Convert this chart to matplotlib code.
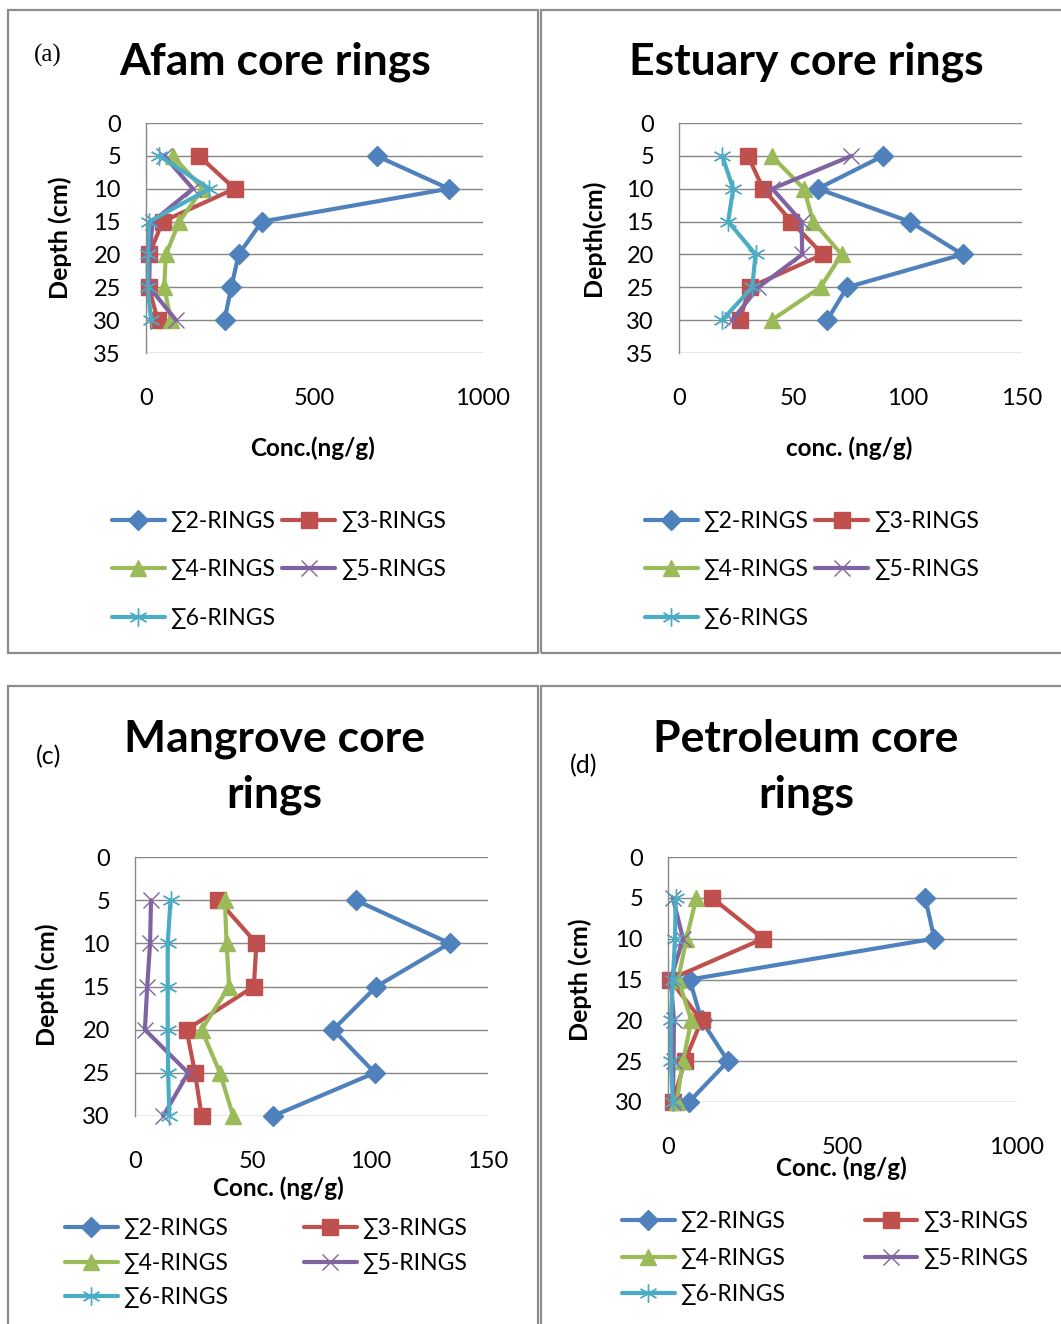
import matplotlib
matplotlib.use("Agg")
import matplotlib.pyplot as plt
from matplotlib.patches import Rectangle

plt.rcParams['font.family'] = ['Lato', 'DejaVu Sans']

W, H = 1061, 1324

# profondeurs (cm)
depth = [5, 10, 15, 20, 25, 30]
series_names = ["∑2-RINGS", "∑3-RINGS", "∑4-RINGS", "∑5-RINGS", "∑6-RINGS"]

# (a) Afam
afam_2 = [684, 899, 344, 275, 253, 233]
afam_3 = [157, 263, 49, 10, 8, 35]
afam_4 = [79, 168, 99, 59, 54, 74]
afam_5 = [54, 139, 20, 10, 10, 89]
afam_6 = [40, 188, 10, 5, 5, 15]

# (b) Estuary
estuary_2 = [89.3, 60.7, 100.9, 124.0, 73.5, 64.8]
estuary_3 = [30.1, 36.8, 49.1, 62.9, 31.0, 26.5]
estuary_4 = [40.5, 54.6, 58.7, 71.1, 61.9, 40.5]
estuary_5 = [75.4, 40.8, 53.6, 53.9, 34.7, 23.3]
estuary_6 = [18.9, 23.7, 21.5, 33.5, 32.0, 18.9]

# (c) Mangrove
mangrove_2 = [93.8, 133.7, 102.6, 84.2, 101.9, 58.7]
mangrove_3 = [35.4, 51.6, 50.5, 21.9, 25.5, 28.3]
mangrove_4 = [38.2, 38.9, 40.0, 28.3, 36.1, 41.7]
mangrove_5 = [6.8, 6.4, 5.2, 4.2, 22.6, 12.0]
mangrove_6 = [15.1, 13.9, 13.9, 13.9, 14.1, 14.6]

# (d) Petroleum
petroleum_2 = [737, 763, 62, 96, 172, 60]
petroleum_3 = [126, 273, 5, 96, 48, 14]
petroleum_4 = [81, 53, 29, 67, 43, 25]
petroleum_5 = [14, 43, 8, 17, 16, 14]
petroleum_6 = [22, 20, 14, 8, 8, 14]

couleurs = ['#4F81BD', '#C0504D', '#9BBB59', '#8064A2', '#4BACC6']
marqueurs = [('D', 10, 1), ('s', 11, 1), ('^', 12, 1), ('x', 12, 1.0), ((6, 2, 0), 13, 1.0)]
GRIS = '#878787'


def px_rect(x0, y0, x1, y1):
    return [x0 / W, 1 - y1 / H, (x1 - x0) / W, (y1 - y0) / H]


def fx(x):
    return x / W


def fy(y):
    return 1 - y / H


fig = plt.figure(figsize=(W / 100, H / 100), dpi=100)

# cadres des quatre panneaux
for (x0, y0, x1, y1) in [(8, 10, 538, 653), (541, 10, 1070, 653),
                         (8, 686, 538, 1340), (541, 686, 1070, 1340)]:
    fig.patches.append(Rectangle((fx(x0), fy(y1)), (x1 - x0) / W, (y1 - y0) / H,
                                 transform=fig.transFigure, fill=False,
                                 edgecolor='#8c8c8c', linewidth=1.6))

panneaux = [
    dict(data=[afam_2, afam_3, afam_4, afam_5, afam_6], rect=(146, 123, 483, 353),
         xlim=1000, xticks=[0, 500, 1000], ymax=35,
         titre="Afam core rings", tpos=(275, 62), ylab="Depth (cm)", ylpos=(60, 238),
         xlab="Conc.(ng/g)", xlpos=(313, 448), leg=(112, 511), leg_sp=1.2, col_sp=0.3),
    dict(data=[estuary_2, estuary_3, estuary_4, estuary_5, estuary_6], rect=(679, 123, 1022, 353),
         xlim=150, xticks=[0, 50, 100, 150], ymax=35,
         titre="Estuary core rings", tpos=(806, 62), ylab="Depth(cm)", ylpos=(593, 238),
         xlab="conc. (ng/g)", xlpos=(849, 448), leg=(645, 511), leg_sp=1.2, col_sp=0.3),
    dict(data=[mangrove_2, mangrove_3, mangrove_4, mangrove_5, mangrove_6], rect=(135, 857, 488, 1116),
         xlim=150, xticks=[0, 50, 100, 150], ymax=30,
         titre="Mangrove core\nrings", tpos=(274, 767), ylab="Depth (cm)", ylpos=(47, 985),
         xlab="Conc. (ng/g)", xlpos=(278, 1188), leg=(65, 1218), leg_sp=0.6, col_sp=3.3),
    dict(data=[petroleum_2, petroleum_3, petroleum_4, petroleum_5, petroleum_6], rect=(668, 857, 1017, 1102),
         xlim=1000, xticks=[0, 500, 1000], ymax=30,
         titre="Petroleum core\nrings", tpos=(806, 767), ylab="Depth (cm)", ylpos=(580, 980),
         xlab="Conc. (ng/g)", xlpos=(841, 1168), leg=(622, 1211), leg_sp=0.68, col_sp=3.45),
]

for p in panneaux:
    ax = fig.add_axes(px_rect(*p['rect']))
    lignes = []
    for vals, nom, c, (m, ms, mew) in zip(p['data'], series_names, couleurs, marqueurs):
        ln, = ax.plot(vals, depth, color=c, linewidth=3, marker=m, markersize=ms,
                      markeredgewidth=mew, markeredgecolor=c, markerfacecolor=c,
                      label=nom, solid_joinstyle='round', solid_capstyle='round')
        lignes.append(ln)
    ax.set_xlim(0, p['xlim'])
    ax.set_ylim(p['ymax'], 0)
    ax.set_xticks(p['xticks'])
    ax.set_yticks(range(0, p['ymax'] + 1, 5))
    ax.tick_params(axis='both', length=0, labelsize=17, colors='black')
    ax.tick_params(axis='x', pad=25)
    ax.tick_params(axis='y', pad=18)
    for cote in ['top', 'right', 'bottom']:
        ax.spines[cote].set_visible(False)
    ax.spines['left'].set_color(GRIS)
    ax.spines['left'].set_linewidth(1)
    ax.grid(True, axis='y', color=GRIS, linewidth=1)
    ax.set_axisbelow(True)
    for ln in lignes:
        ln.set_clip_on(False)

    fig.text(fx(p['tpos'][0]), fy(p['tpos'][1]), p['titre'], ha='center', va='center',
             fontsize=32, fontweight='bold', linespacing=1.45)
    fig.text(fx(p['ylpos'][0]), fy(p['ylpos'][1]), p['ylab'], ha='center', va='center',
             rotation=90, fontsize=18, fontweight='bold')
    fig.text(fx(p['xlpos'][0]), fy(p['xlpos'][1]), p['xlab'], ha='center', va='center',
             fontsize=17.5, fontweight='bold')

    # ordre en lignes comme Excel : 2,3 / 4,5 / 6
    ordre = [0, 2, 4, 1, 3]
    fig.legend([lignes[i] for i in ordre], [series_names[i] for i in ordre],
               loc='upper left', bbox_to_anchor=(fx(p['leg'][0]), fy(p['leg'][1])),
               ncol=2, frameon=False, fontsize=16.5, handlelength=2.3, handletextpad=0.25,
               columnspacing=p['col_sp'], labelspacing=p['leg_sp'], borderpad=0,
               borderaxespad=0)

fig.text(fx(48), fy(55), "(a)", ha='center', va='center', fontsize=18,
         family=['Liberation Serif'])
fig.text(fx(49), fy(757), "(c)", ha='center', va='center', fontsize=18)
fig.text(fx(584), fy(766), "(d)", ha='center', va='center', fontsize=18)

fig.savefig("out.png", dpi=100)
